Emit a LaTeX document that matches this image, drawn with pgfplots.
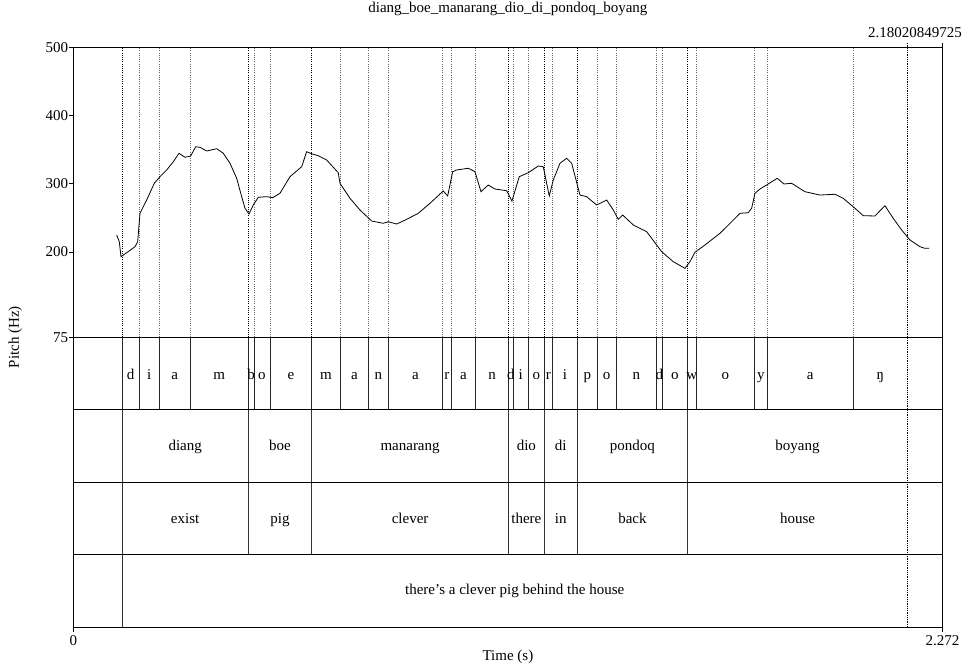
\documentclass[border=0pt]{standalone}
\usepackage{fontspec}
\setmainfont{Liberation Serif}
\usepackage{pgfplots}
\pgfplotsset{compat=1.18}
\begin{document}
\fontsize{15}{18}\selectfont
\begin{tikzpicture}
\useasboundingbox (-73.3pt,-41.7pt) rectangle (893.7pt,627.3pt);
\begin{axis}[
  at={(0pt,0pt)}, anchor=south west,
  scale only axis, width=869.2pt, height=580pt,
  xmin=0, xmax=2.272, ymin=-350, ymax=500,
  clip=false,
  axis line style={line width=1.2pt},
  xtick={0,2.272}, xticklabels={0,2.272},
  ytick={75,200,300,400,500},
  tick align=outside, xtick pos=bottom, ytick pos=left,
  major tick length=4.5pt,
  tick style={line width=1pt, black},
  /pgf/number format/assume math mode=true,
  yticklabel style={inner sep=0.5pt},
  xticklabel style={inner sep=3.5pt},
  xlabel={Time (s)},
  xlabel style={at={(axis description cs:0.5,0)}, anchor=center, yshift=-30pt},
  ylabel={Pitch (Hz)},
  ylabel style={at={(axis description cs:0,0.5)}, anchor=center, rotate=0, yshift=58pt},
  title={diang\_boe\_manarang\_dio\_di\_pondoq\_boyang},
  title style={at={(axis description cs:0.5,1)}, anchor=base, yshift=29.1pt, inner sep=0pt},
]
% phone boundaries: dotted in the pitch area, solid in the phone tier
\pgfplotsinvokeforeach{0.1273,0.1725,0.2248,0.3058,0.4574,0.4723,0.5141,0.6231,0.6971,0.7721,0.8233,0.9655,0.9872,1.0518,1.1375,1.1500,1.1892,1.2311,1.2530,1.3173,1.3696,1.4185,1.5248,1.5387,1.6058,1.6275,1.7810,1.8139,2.0387}{
  \draw[black!60, line width=0.6pt, dash pattern=on 0.9pt off 1.3pt] (axis cs:#1,75) -- (axis cs:#1,500);
  \draw[black!85, line width=0.8pt] (axis cs:#1,75) -- (axis cs:#1,-31.25);
}
% word boundaries: darker dotted in pitch area, solid in word and gloss tiers
\pgfplotsinvokeforeach{0.1273,0.4574,0.6231,1.1375,1.2311,1.3173,1.6058}{
  \draw[black, line width=0.9pt, dash pattern=on 0.9pt off 1.3pt] (axis cs:#1,75) -- (axis cs:#1,500);
  \draw[black!80, line width=0.9pt] (axis cs:#1,-31.25) -- (axis cs:#1,-243.75);
}
% sentence boundary
\draw[black!80, line width=0.9pt] (axis cs:0.1273,-243.75) -- (axis cs:0.1273,-350);
\draw[black, line width=1.1pt, dash pattern=on 0.9pt off 0.9pt] (axis cs:2.1802,506.7) -- (axis cs:2.1802,-350);
\draw[black, line width=1.1pt] (axis cs:2.272,500) -- (axis cs:2.272,506.7);
% tier separators
\pgfplotsinvokeforeach{75,-31.25,-137.5,-243.75}{
  \draw[black, line width=1.2pt] (axis cs:0,#1) -- (axis cs:2.272,#1);
}
\node[anchor=base east, inner sep=0pt, xshift=19.5pt, yshift=10pt] at (axis cs:2.272,500) {2.18020849725};

% pitch contour
\addplot[black, line width=0.8pt, mark=none] coordinates {
(0.1134,224.9) (0.1202,215.1) (0.1247,193.1) (0.1396,199.0) (0.1613,207.8) (0.1683,215.1) (0.1743,256.7) (0.1918,276.2) (0.2117,300.7) (0.2266,310.4) (0.2441,320.2) (0.2614,332.3) (0.2763,344.7) (0.2919,338.8) (0.3068,340.7) (0.3199,354.3) (0.3312,353.4) (0.3487,348.0) (0.3748,351.4) (0.3921,344.7) (0.4096,330.0) (0.4271,308.0) (0.4401,281.1) (0.4488,264.1) (0.4592,255.7) (0.4705,268.9) (0.4835,280.2) (0.5055,281.1) (0.5212,279.6) (0.5402,286.0) (0.5664,310.4) (0.5970,325.0) (0.6100,347.0) (0.6247,343.6) (0.6403,341.1) (0.6623,334.8) (0.6926,316.2) (0.6971,300.7) (0.7232,278.7) (0.7493,261.6) (0.7799,245.4) (0.8102,242.1) (0.8233,244.4) (0.8453,241.0) (0.8714,247.9) (0.9017,256.7) (0.9323,271.4) (0.9671,289.4) (0.9786,282.1) (0.9916,317.7) (1.0021,320.2) (1.0324,322.7) (1.0499,317.7) (1.0656,288.4) (1.0847,298.2) (1.1022,292.3) (1.1328,289.8) (1.1466,274.7) (1.1657,310.4) (1.1892,316.2) (1.2154,326.0) (1.2284,325.0) (1.2441,282.1) (1.2546,305.5) (1.2721,330.0) (1.2896,337.3) (1.3027,330.0) (1.3244,283.5) (1.3419,281.1) (1.3680,268.9) (1.3942,276.2) (1.4114,261.6) (1.4245,247.9) (1.4360,254.2) (1.4637,239.6) (1.4987,229.8) (1.5248,210.3) (1.5379,200.5) (1.5682,185.8) (1.5988,176.1) (1.6119,185.8) (1.6249,199.6) (1.6511,210.3) (1.6903,227.4) (1.7209,244.4) (1.7426,256.7) (1.7642,257.6) (1.7731,264.1) (1.7818,286.0) (1.7948,292.3) (1.8165,299.7) (1.8400,308.0) (1.8576,299.7) (1.8777,300.7) (1.9124,288.4) (1.9516,283.5) (1.9908,284.6) (2.0125,278.7) (2.0431,264.1) (2.0648,253.2) (2.0954,252.8) (2.1215,267.9) (2.1432,249.4) (2.1652,232.3) (2.1869,217.6) (2.2130,207.8) (2.2261,205.4) (2.2373,205.4)
};

% phone tier labels
\begin{scope}[every node/.style={anchor=base, inner sep=0pt}]
\node at (axis cs:0.1499,13.5) {d};
\node at (axis cs:0.1987,13.5) {i};
\node at (axis cs:0.2653,13.5) {a};
\node at (axis cs:0.3816,13.5) {m};
\node at (axis cs:0.4649,13.5) {b};
\node at (axis cs:0.4932,13.5) {o};
\node at (axis cs:0.5686,13.5) {e};
\node at (axis cs:0.6601,13.5) {m};
\node at (axis cs:0.7346,13.5) {a};
\node at (axis cs:0.7977,13.5) {n};
\node at (axis cs:0.8944,13.5) {a};
\node at (axis cs:0.9764,13.5) {r};
\node at (axis cs:1.0195,13.5) {a};
\node at (axis cs:1.0947,13.5) {n};
\node at (axis cs:1.1438,13.5) {d};
\node at (axis cs:1.1696,13.5) {i};
\node at (axis cs:1.2102,13.5) {o};
\node at (axis cs:1.2421,13.5) {r};
\node at (axis cs:1.2852,13.5) {i};
\node at (axis cs:1.3435,13.5) {p};
\node at (axis cs:1.3941,13.5) {o};
\node at (axis cs:1.4717,13.5) {n};
\node at (axis cs:1.5318,13.5) {d};
\node at (axis cs:1.5723,13.5) {o};
\node at (axis cs:1.6167,13.5) {w};
\node at (axis cs:1.7043,13.5) {o};
\node at (axis cs:1.7975,13.5) {y};
\node at (axis cs:1.9263,13.5) {a};
\node at (axis cs:2.1095,13.5) {ŋ};
% word tier
\node at (axis cs:0.2924,-91.2) {diang};
\node at (axis cs:0.5403,-91.2) {boe};
\node at (axis cs:0.8803,-91.2) {manarang};
\node at (axis cs:1.1843,-91.2) {dio};
\node at (axis cs:1.2742,-91.2) {di};
\node at (axis cs:1.4616,-91.2) {pondoq};
\node at (axis cs:1.8930,-91.2) {boyang};
% gloss tier
\node at (axis cs:0.2924,-197.6) {exist};
\node at (axis cs:0.5403,-197.6) {pig};
\node at (axis cs:0.8803,-197.6) {clever};
\node at (axis cs:1.1843,-197.6) {there};
\node at (axis cs:1.2742,-197.6) {in};
\node at (axis cs:1.4616,-197.6) {back};
\node at (axis cs:1.8930,-197.6) {house};
% sentence tier
\node at (axis cs:1.1538,-301.6) {there’s a clever pig behind the house};
\end{scope}
\end{axis}
\end{tikzpicture}
\end{document}
